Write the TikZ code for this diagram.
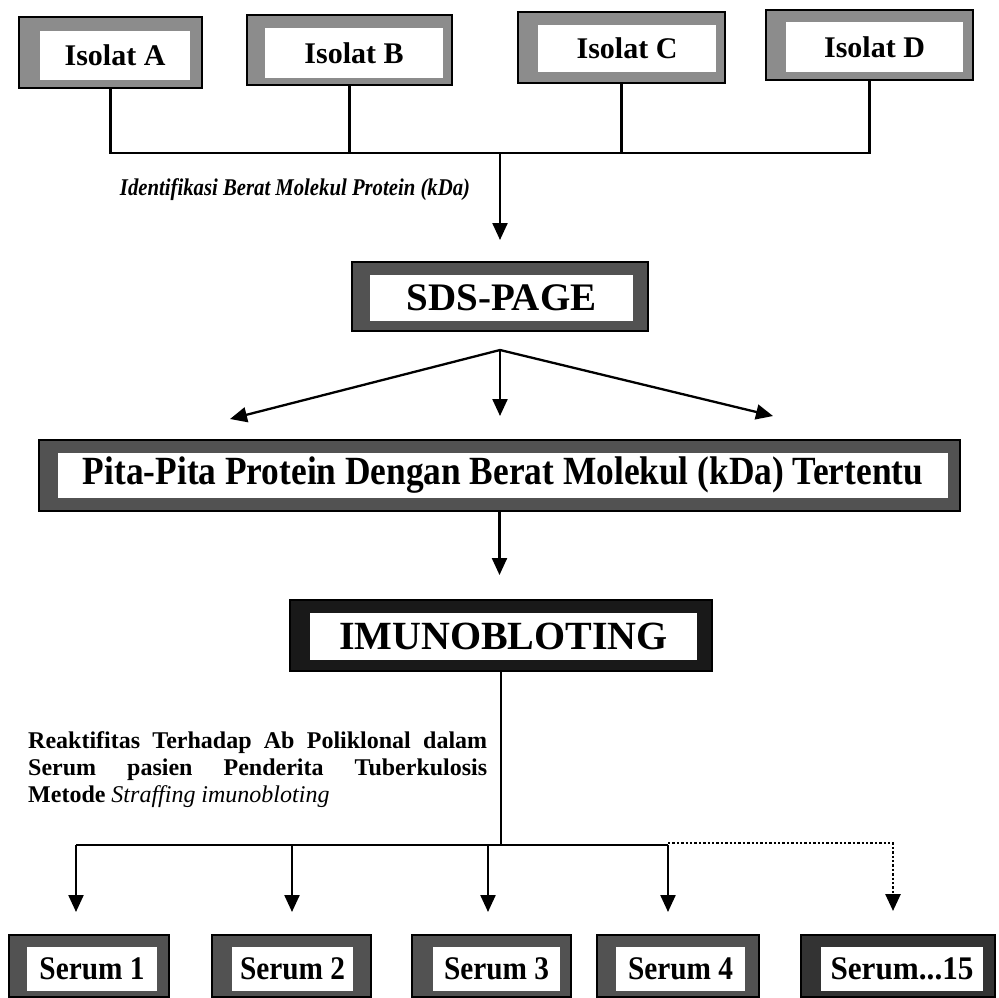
\documentclass[tikz,border=0pt]{standalone}
\usepackage{fontspec}
\setmainfont{Liberation Serif}
\usetikzlibrary{arrows.meta}
\definecolor{frLight}{gray}{0.55}
\definecolor{frMid}{gray}{0.32}
\definecolor{frDark}{gray}{0.2}
\definecolor{frBlack}{gray}{0.1}
\tikzset{
  outerbox/.style={draw=black, line width=1.6pt, inner sep=0pt, outer sep=0pt},
  innerbox/.style={fill=white, draw=none, inner sep=0pt, outer sep=0pt},
  conn/.style={line width=2.3pt},
  arr/.style={conn, -{Triangle[length=17pt,width=15pt]}},
  dotarr/.style={line width=2.6pt, dash pattern=on 2.4pt off 2pt, -{Triangle[length=17pt,width=15pt]}}
}
% outer frame: name, colour, xl, yt, xr, yb
\newcommand\obox[6]{\node[outerbox, fill=#2, minimum width={#5-#3}, minimum height={#6-#4}] (#1) at ({(#3+#5)/2},{(#4+#6)/2}) {};}
% inner white panel with text: name, xl, yt, xr, yb, font, text
\newcommand\ibox[7]{\node[innerbox, font={#6}, minimum width={#4-#2}, minimum height={#5-#3}] (#1) at ({(#2+#4)/2},{(#3+#5)/2}) {#7};}
\newcommand\isofont{\bfseries\fontsize{30}{32}\selectfont}
\newcommand\serfont{\bfseries\fontsize{33}{35}\selectfont}
\begin{document}
\begin{tikzpicture}[x=1pt,y=-1pt]
\useasboundingbox (0,0) rectangle (998,998);
\fill[white] (0,0) rectangle (998,998);

% Isolat boxes
\obox{A}{frLight}{19}{17}{202}{88}
\ibox{Ai}{40}{31}{190}{80}{\isofont}{Isolat A}
\obox{B}{frLight}{247}{15}{452}{85}
\ibox{Bi}{265}{28}{443}{78}{\isofont}{Isolat B}
\obox{C}{frLight}{518}{12}{725}{83}
\ibox{Ci}{538}{25}{716}{72}{\isofont}{Isolat C}
\obox{D}{frLight}{766}{10}{973}{80}
\ibox{Di}{786}{22}{963}{72}{\isofont}{Isolat D}

% SDS-PAGE
\obox{sds}{frMid}{352}{262}{648}{331}
\ibox{sdsi}{370}{275}{633}{321}{\bfseries\fontsize{39}{42}\selectfont}{SDS-PAGE}

% Pita box
\obox{pita}{frMid}{39}{440}{960}{511}
\ibox{pitai}{58}{453}{948}{498}{\bfseries\fontsize{40}{42}\selectfont}{\resizebox{840pt}{\height}{Pita-Pita Protein Dengan Berat Molekul (kDa) Tertentu}}

% IMUNOBLOTING
\obox{imun}{frBlack}{290}{600}{712}{671}
\ibox{imuni}{310}{613}{697}{660}{\bfseries\fontsize{40}{42}\selectfont}{IMUNOBLOTING}

% Serum boxes
\obox{s1}{frMid}{9}{935}{169}{997}
\ibox{s1i}{27}{947}{157}{991}{\serfont}{\resizebox{105pt}{\height}{Serum 1}}
\obox{s2}{frMid}{212}{935}{371}{997}
\ibox{s2i}{232}{947}{353}{991}{\serfont}{\resizebox{105pt}{\height}{Serum 2}}
\obox{s3}{frMid}{412}{935}{571}{997}
\ibox{s3i}{433}{947}{560}{991}{\serfont}{\resizebox{105pt}{\height}{Serum 3}}
\obox{s4}{frMid}{597}{935}{759}{997}
\ibox{s4i}{616}{947}{745}{991}{\serfont}{\resizebox{105pt}{\height}{Serum 4}}
\obox{s5}{frDark}{801}{935}{995}{997}
\ibox{s5i}{821}{947}{983}{991}{\serfont}{\resizebox{143pt}{\height}{Serum...15}}

% labels
\node[inner sep=0pt, font=\bfseries\itshape\fontsize{24}{26}\selectfont] (lid) at (295,190)
  {\resizebox{350pt}{\height}{Identifikasi Berat Molekul Protein (kDa)}};
\node[anchor=west, inner sep=0pt, align=left, font=\bfseries\fontsize{24}{27}\selectfont] (lre) at (28,770)
  {\makebox[459pt][s]{Reaktifitas Terhadap Ab Poliklonal dalam}\\
   \makebox[459pt][s]{Serum pasien Penderita Tuberkulosis}\\
   Metode {\mdseries\itshape Straffing imunobloting}};

% top connectors
\coordinate (bus1) at (500,153);
\draw[conn] (A.south) |- (D.south |- bus1) -- (D.south);
\draw[conn] (B.south) -- (B.south |- bus1);
\draw[conn] (C.south) -- (C.south |- bus1);
\draw[arr] (bus1) -- ([yshift=22pt]sds.north);

% SDS-PAGE fan
\coordinate (apex) at (500,350);
\coordinate (tL) at (230,419);
\coordinate (tM) at (500,416);
\coordinate (tR) at (773,416);
\draw[arr] (apex) -- (tL);
\draw[arr] (apex) -- (tM);
\draw[arr] (apex) -- (tR);

% Pita -> IMUNOBLOTING
\draw[arr] (pita.south) -- ([yshift=25pt]imun.north -| pita.south);

% IMUNOBLOTING -> sera
\coordinate (bus2) at (501,845);
\coordinate (a1) at (76,845);
\coordinate (a2) at (292,845);
\coordinate (a3) at (488,845);
\coordinate (a4) at (668,845);
\coordinate (a5) at (893,843);
\draw[conn] (imun.south) -- (imun.south |- bus2);
\draw[conn] (a1) -- (a4);
\draw[arr, shorten >=23pt] (a1) -- (a1 |- s1.north);
\draw[arr, shorten >=23pt] (a2) -- (a2 |- s2.north);
\draw[arr, shorten >=23pt] (a3) -- (a3 |- s3.north);
\draw[arr, shorten >=23pt] (a4) -- (a4 |- s4.north);
\draw[dotarr, shorten >=24pt] (a4 |- a5) -- (a5) -- (a5 |- s5.north);
\end{tikzpicture}
\end{document}
